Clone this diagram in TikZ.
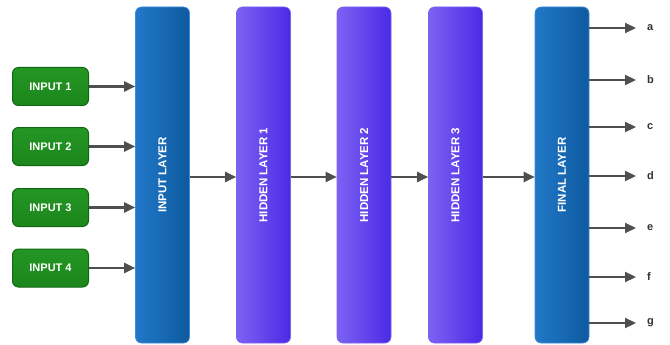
\documentclass[tikz,border=0pt]{standalone}
\usepackage{fontspec}
\setmainfont{Liberation Sans}
\usetikzlibrary{arrows.meta}
\definecolor{inpgreen}{HTML}{1C861C}
\definecolor{inpgreenl}{HTML}{249624}
\definecolor{inpborder}{HTML}{126812}
\definecolor{bluel}{HTML}{2178C8}
\definecolor{bluer}{HTML}{0E5A9F}
\definecolor{bluebd}{HTML}{3C8FD8}
\definecolor{purl}{HTML}{7C62F2}
\definecolor{purr}{HTML}{4A2AE6}
\definecolor{arrowgray}{HTML}{4F4F4F}
\definecolor{labgray}{HTML}{333333}
\tikzset{
  inputbox/.style={draw=inpborder, line width=1pt, top color=inpgreenl, bottom color=inpgreen, rounded corners=6pt,
    minimum width=76pt, minimum height=38pt, inner sep=0pt,
    text=white, font=\fontsize{11}{13}\selectfont\bfseries},
  layerbox/.style={rounded corners=6pt, minimum width=54pt, minimum height=336pt, inner sep=0pt,
    text=white, font=\fontsize{11.5}{13}\selectfont\bfseries},
  bluelayer/.style={layerbox, draw=bluebd, line width=0.6pt, left color=bluel, right color=bluer},
  purplelayer/.style={layerbox, draw=purl, line width=0.6pt, left color=purl, right color=purr},
  conn/.style={draw=arrowgray, line width=2.2pt, -{Triangle[length=11pt,width=10pt]}},
  outlab/.style={text=labgray, font=\fontsize{11}{13}\selectfont\bfseries, anchor=west, inner sep=0pt}
}
\begin{document}
\begin{tikzpicture}[x=1pt,y=-1pt]
\useasboundingbox[fill=white] (0,0) rectangle (670,345);
% inputs
\node[inputbox] (in1) at (50.5,86.5) {INPUT 1};
\node[inputbox] (in2) at (50.5,146.5) {INPUT 2};
\node[inputbox] (in3) at (50.5,207.5) {INPUT 3};
\node[inputbox] (in4) at (50.5,268) {INPUT 4};
% layers
\node[bluelayer] (il) at (162.5,175) {\rotatebox{90}{INPUT LAYER}};
\node[purplelayer] (h1) at (263.5,175) {\rotatebox{90}{HIDDEN LAYER 1}};
\node[purplelayer] (h2) at (364,175) {\rotatebox{90}{HIDDEN LAYER 2}};
\node[purplelayer] (h3) at (455.5,175) {\rotatebox{90}{HIDDEN LAYER 3}};
\node[bluelayer] (fl) at (562,175) {\rotatebox{90}{FINAL LAYER}};
% input arrows
\foreach \i in {1,2,3,4} {
  \draw[conn] (in\i.east) -- (in\i.east -| il.west);
}
% layer arrows
\draw[conn] (il.east |- 0,177) coordinate (a1) -- (h1.west |- a1);
\draw[conn] (h1.east |- 0,177) coordinate (a2) -- (h2.west |- a2);
\draw[conn] (h2.east |- 0,177) coordinate (a3) -- (h3.west |- a3);
\draw[conn] (h3.east |- 0,177) coordinate (a4) -- (fl.west |- a4);
% outputs
\foreach \l/\y in {a/28,b/80,c/127,d/176,e/228,f/277,g/323} {
  \coordinate (s\l) at (fl.east |- 0,\y);
  \node[outlab] (o\l) at (647,\y) {\l};
  \draw[conn] (s\l) -- (636,\y);
}
\end{tikzpicture}
\end{document}
